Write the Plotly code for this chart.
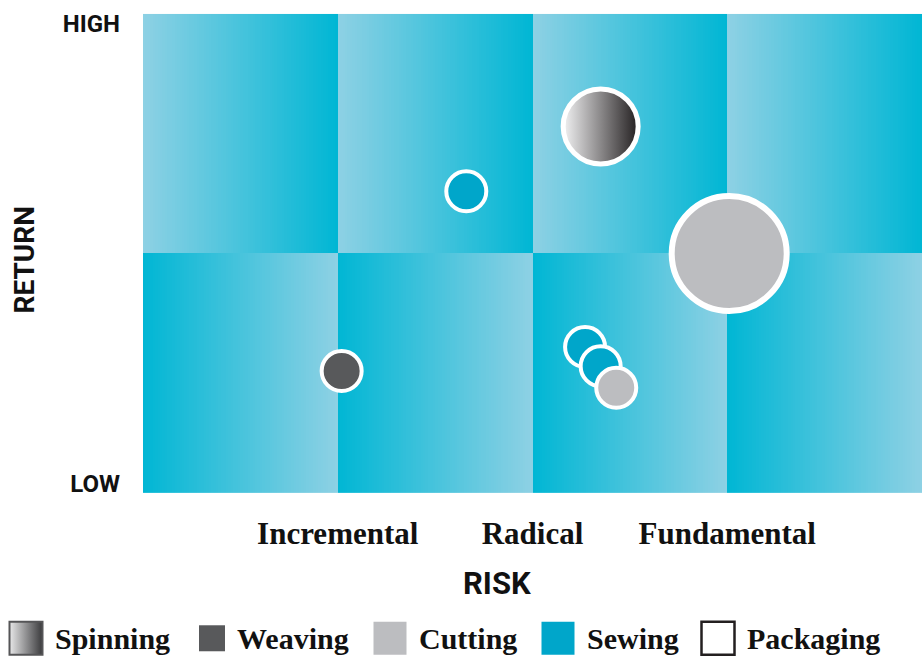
import plotly.graph_objects as go
import numpy as np

# ---------------- data ----------------
risk_labels = ["Incremental", "Radical", "Fundamental"]
risk_ticks = [1, 2, 3]
return_labels = ["LOW", "HIGH"]
return_ticks = [0.04, 1.96]

stages = ["Spinning", "Weaving", "Cutting", "Sewing", "Packaging"]
stage_colors = {"Spinning": "#F2F2F3", "Weaving": "#58595B", "Cutting": "#BCBDC0",
                "Sewing": "#00A6CA", "Packaging": "#FFFFFF"}
spin_dark = "#231F20"

proj_stage = ["Spinning", "Sewing", "Cutting", "Weaving", "Sewing", "Sewing", "Cutting"]
proj_risk = [2.35, 1.66, 3.01, 1.02, 2.27, 2.35, 2.43]
proj_return = [1.53, 1.26, 1.00, 0.51, 0.61, 0.53, 0.44]
proj_size = [75, 40, 115, 40, 40, 40, 40]
proj_border = [5, 4, 6, 4, 4, 4, 4]

# ---------------- layout constants ----------------
W, H = 922, 663
X0, X1, Y0, Y1 = 143, 922, 10, 496   # plot area in px
light = "#8ED1E4"
dark = "#00B6D4"
SANS = "Roboto, Liberation Sans, sans-serif"
SERIF = "Liberation Serif, DejaVu Serif, serif"
INK = "#111111"

fig = go.Figure()

# gradient background cells
N = 80
xs = np.concatenate([c + (np.arange(N) + 0.5) / N for c in range(4)])
t = np.tile((np.arange(N) + 0.5) / N, 4)
z = [1 - t, t]   # bottom row: dark->light, top row: light->dark
fig.add_trace(go.Heatmap(x=xs, y=[0.5, 1.5], z=z, zmin=0, zmax=1,
                         colorscale=[[0, light], [1, dark]],
                         showscale=False, hoverinfo="skip", zsmooth=False))

# bubbles
for s, xr, yr, sz, bw in zip(proj_stage, proj_risk, proj_return, proj_size, proj_border):
    marker = dict(size=sz, color=stage_colors[s], line=dict(color="white", width=bw), opacity=1)
    if s == "Spinning":
        marker["gradient"] = dict(type="horizontal", color=spin_dark)
    fig.add_trace(go.Scatter(x=[xr], y=[yr], mode="markers", marker=marker,
                             showlegend=False, hoverinfo="skip", cliponaxis=False))

# custom legend row (overlay axes in pixel units)
leg_x = [26, 212, 390, 558, 718]
leg_sizes = [33, 26, 33, 33, 33]
for s, lx, ls in zip(stages, leg_x, leg_sizes):
    m = dict(symbol="square", size=ls, color=stage_colors[s], line=dict(width=0))
    if s == "Spinning":
        m["color"] = "#E8E8E9"
        m["gradient"] = dict(type="horizontal", color="#3A3A3C")
        m["line"] = dict(color="#555557", width=2)
    if s == "Packaging":
        m["line"] = dict(color=spin_dark, width=2.5)
    fig.add_trace(go.Scatter(x=[lx], y=[20], mode="markers", marker=m, xaxis="x2", yaxis="y2",
                             showlegend=False, hoverinfo="skip", cliponaxis=False))
    fig.add_annotation(x=lx + ls / 2 + 10, y=20, xref="x2", yref="y2", text=s, showarrow=False,
                       xanchor="left", yanchor="middle",
                       font=dict(family=SERIF, size=30, color=INK, weight="bold"))

# axis titles
fig.add_annotation(x=497 / W, y=1 - 587 / H, xref="paper", yref="paper", text="RISK",
                   showarrow=False, xanchor="center", yanchor="middle",
                   font=dict(family=SANS, size=31, color=INK, weight="bold"))
fig.add_annotation(x=24 / W, y=1 - 260 / H, xref="paper", yref="paper", text="RETURN",
                   showarrow=False, xanchor="center", yanchor="middle", textangle=-90,
                   font=dict(family=SANS, size=28, color=INK, weight="bold"))

fig.update_layout(
    width=W, height=H, margin=dict(l=0, r=0, t=0, b=0),
    paper_bgcolor="white", plot_bgcolor="white",
    xaxis=dict(domain=[X0 / W, X1 / W], range=[0, 4], showgrid=False, zeroline=False,
               showline=False, tickvals=risk_ticks, ticktext=risk_labels, ticks="",
               ticklabelstandoff=19, fixedrange=True,
               tickfont=dict(family=SERIF, size=31, color=INK, weight="bold")),
    yaxis=dict(domain=[1 - Y1 / H, 1 - Y0 / H], range=[0, 2], showgrid=False, zeroline=False,
               showline=False, tickvals=return_ticks, ticktext=return_labels, ticks="",
               ticklabelstandoff=22, fixedrange=True,
               tickfont=dict(family=SANS, size=24, color=INK, weight="bold")),
    xaxis2=dict(domain=[0, 1], range=[0, W], visible=False, anchor="y2", fixedrange=True),
    yaxis2=dict(domain=[0, 40 / H], range=[0, 40], visible=False, anchor="x2", fixedrange=True),
)

fig.write_html("out.html")
